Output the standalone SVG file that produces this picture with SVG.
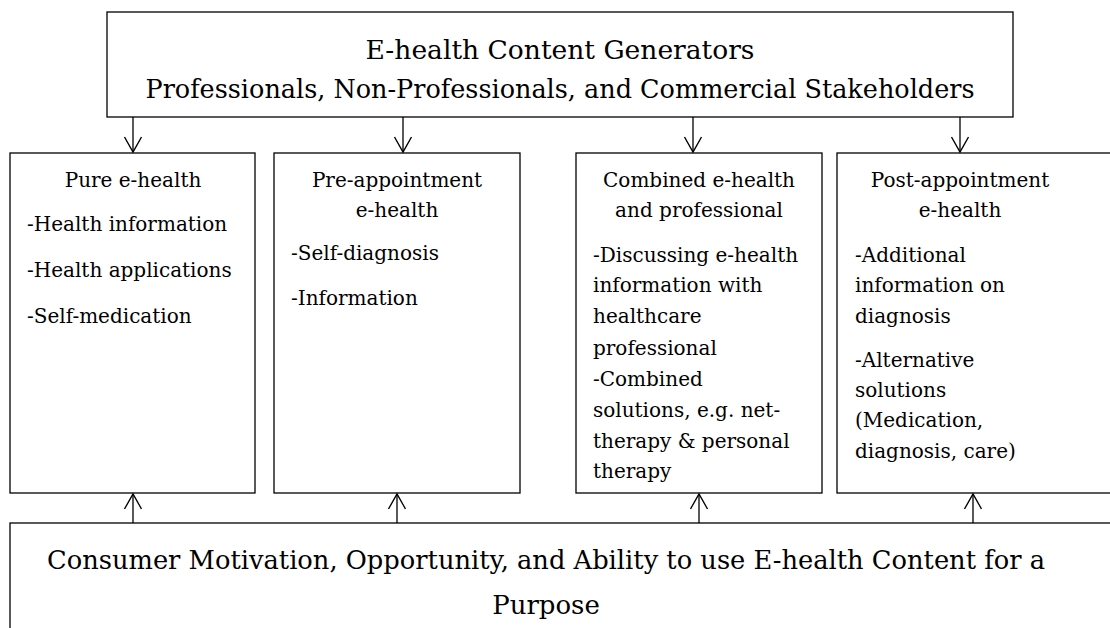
<svg xmlns="http://www.w3.org/2000/svg" width="1110" height="628" viewBox="0 0 1110 628">
<defs>
<marker id="arr" viewBox="0 0 20 20" refX="18" refY="10" markerWidth="20" markerHeight="20" markerUnits="userSpaceOnUse" orient="auto">
<polyline points="3,1.5 18,10 3,18.5" fill="none" stroke="#000" stroke-width="1.4"/>
</marker>
<style>
.box{fill:#fff;stroke:#000;stroke-width:1.3}
.t{font-family:"DejaVu Serif","Liberation Serif",serif;fill:#000}
.big{font-size:26px}
.mid{font-size:20px}
.c{text-anchor:middle}
.ln{stroke:#000;stroke-width:1.3;fill:none}
</style>
</defs>
<rect width="1110" height="628" fill="#fff"/>
<g id="generators">
<rect class="box" x="107" y="12" width="906" height="105"/>
<text class="t big c" x="560" y="59" textLength="389" lengthAdjust="spacingAndGlyphs">E-health Content Generators</text>
<text class="t big c" x="560" y="98" textLength="829" lengthAdjust="spacingAndGlyphs">Professionals, Non-Professionals, and Commercial Stakeholders</text>
</g>
<g id="pure">
<rect class="box" x="10" y="153" width="245" height="340"/>
<text class="t mid c" x="133" y="187">Pure e-health</text>
<text class="t mid" x="27" y="231">-Health information</text>
<text class="t mid" x="27" y="277">-Health applications</text>
<text class="t mid" x="27" y="323">-Self-medication</text>
</g>
<g id="pre">
<rect class="box" x="274" y="153" width="246" height="340"/>
<text class="t mid c" x="397" y="187">Pre-appointment</text>
<text class="t mid c" x="397" y="217">e-health</text>
<text class="t mid" x="291" y="260">-Self-diagnosis</text>
<text class="t mid" x="291" y="305">-Information</text>
</g>
<g id="combined">
<rect class="box" x="576" y="153" width="246" height="340"/>
<text class="t mid c" x="699" y="187">Combined e-health</text>
<text class="t mid c" x="699" y="217">and professional</text>
<text class="t mid" x="593" y="262">-Discussing e-health</text>
<text class="t mid" x="593" y="292">information with</text>
<text class="t mid" x="593" y="323">healthcare</text>
<text class="t mid" x="593" y="355">professional</text>
<text class="t mid" x="593" y="386">-Combined</text>
<text class="t mid" x="593" y="417">solutions, e.g. net-</text>
<text class="t mid" x="593" y="448">therapy &amp; personal</text>
<text class="t mid" x="593" y="478">therapy</text>
</g>
<g id="post">
<rect class="box" x="837" y="153" width="290" height="340"/>
<text class="t mid c" x="960" y="187">Post-appointment</text>
<text class="t mid c" x="960" y="217">e-health</text>
<text class="t mid" x="855" y="262">-Additional</text>
<text class="t mid" x="855" y="292">information on</text>
<text class="t mid" x="855" y="323">diagnosis</text>
<text class="t mid" x="855" y="367">-Alternative</text>
<text class="t mid" x="855" y="397">solutions</text>
<text class="t mid" x="855" y="427">(Medication,</text>
<text class="t mid" x="855" y="458">diagnosis, care)</text>
</g>
<g id="consumer">
<rect class="box" x="10" y="523" width="1120" height="120"/>
<text class="t big c" x="546" y="569" textLength="998" lengthAdjust="spacingAndGlyphs">Consumer Motivation, Opportunity, and Ability to use E-health Content for a</text>
<text class="t big c" x="546" y="614">Purpose</text>
</g>
<g id="connectors">
<line class="ln" x1="133" y1="117" x2="133" y2="152" marker-end="url(#arr)"/>
<line class="ln" x1="403" y1="117" x2="403" y2="152" marker-end="url(#arr)"/>
<line class="ln" x1="693" y1="117" x2="693" y2="152" marker-end="url(#arr)"/>
<line class="ln" x1="960" y1="117" x2="960" y2="152" marker-end="url(#arr)"/>
<line class="ln" x1="133" y1="523" x2="133" y2="494" marker-end="url(#arr)"/>
<line class="ln" x1="397" y1="523" x2="397" y2="494" marker-end="url(#arr)"/>
<line class="ln" x1="699" y1="523" x2="699" y2="494" marker-end="url(#arr)"/>
<line class="ln" x1="973" y1="523" x2="973" y2="494" marker-end="url(#arr)"/>
</g>
</svg>
